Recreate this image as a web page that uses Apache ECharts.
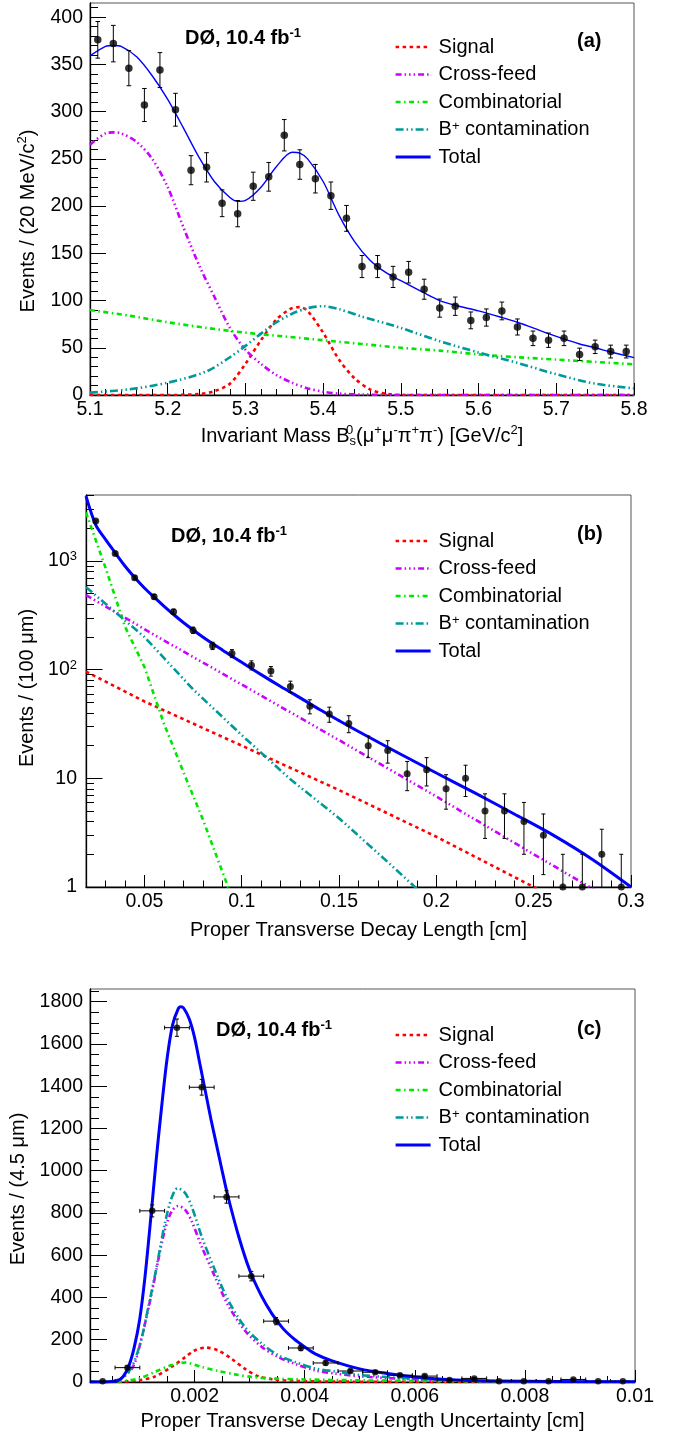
<!DOCTYPE html>
<html>
<head>
<meta charset="utf-8">
<title>DØ fit projections</title>
<script src="https://cdn.jsdelivr.net/npm/echarts@6.0.0/dist/echarts.min.js"></script>
<style>
html,body{margin:0;padding:0;background:#fff;}
#chart{width:673px;height:1433px;}
</style>
</head>
<body>
<div id="chart"></div>
<script>
// ================= DATA =================
// ---- Panel (a): invariant mass ----
const aMassBins = [5.11,5.13,5.15,5.17,5.19,5.21,5.23,5.25,5.27,5.29,5.31,5.33,5.35,5.37,5.39,5.41,5.43,5.45,5.47,5.49,5.51,5.53,5.55,5.57,5.59,5.61,5.63,5.65,5.67,5.69,5.71,5.73,5.75,5.77,5.79];
const aCounts = [376,372,346,307,344,302,238,241,203,192,221,231,275,244,229,211,187,136,136,125,130,112,92,94,79,82,89,72,60,58,60,43,51,46,46];
const aErrors = [19.4,19.3,18.6,17.5,18.5,17.4,15.4,15.5,14.2,13.9,14.9,15.2,16.6,15.6,15.1,14.5,13.7,11.7,11.7,11.2,11.4,10.6,9.6,9.7,8.9,9.1,9.4,8.5,7.7,7.6,7.7,6.6,7.1,6.8,6.8];
const aSignal = [[5.10,0],[5.20,0],[5.24,1],[5.26,4],[5.28,12],[5.30,33],[5.32,58],[5.34,80],[5.36,92],[5.37,93],[5.38,89],[5.40,66],[5.42,38],[5.44,18],[5.46,6],[5.48,1.5],[5.50,0],[5.80,0]];
const aCrossFeed = [[5.10,265],[5.12,277],[5.13,278],[5.14,277],[5.16,268],[5.18,250],[5.20,220],[5.22,178],[5.24,138],[5.26,104],[5.28,71],[5.30,48],[5.32,33],[5.34,21],[5.36,13],[5.38,7],[5.40,3.5],[5.42,1.5],[5.45,0.5],[5.50,0],[5.80,0]];
const aCombinatorial = [[5.10,90],[5.15,84],[5.20,77],[5.25,71],[5.30,66],[5.35,62],[5.40,58],[5.45,54],[5.50,50],[5.55,47],[5.60,43],[5.65,40],[5.70,37.5],[5.75,35],[5.80,32.5]];
const aBplus = [[5.10,2.5],[5.15,6],[5.20,13],[5.25,25],[5.28,40],[5.30,52],[5.32,65],[5.34,77],[5.36,86],[5.38,92],[5.40,94],[5.42,91],[5.45,83],[5.50,71],[5.55,57],[5.60,45],[5.65,34],[5.70,22],[5.75,12],[5.80,7]];
const aTotal = [[5.10,359],[5.12,369],[5.13,370],[5.14,369],[5.16,358],[5.18,338],[5.20,313],[5.22,283],[5.24,252],[5.26,226],[5.28,209],[5.29,205],[5.30,206],[5.32,220],[5.34,242],[5.36,257],[5.37,256],[5.38,250],[5.40,226],[5.42,191],[5.44,163],[5.46,143],[5.48,130],[5.50,121],[5.53,108],[5.55,100],[5.57,95],[5.60,89],[5.63,82],[5.65,77],[5.67,71],[5.70,62],[5.73,54],[5.75,50],[5.77,45.5],[5.80,39.5]];
const aXTicks = [5.1,5.2,5.3,5.4,5.5,5.6,5.7,5.8];
const aYTicks = [0,50,100,150,200,250,300,350,400];

// ---- Panel (b): proper transverse decay length (log) ----
const bBins = [0.025,0.035,0.045,0.055,0.065,0.075,0.085,0.095,0.105,0.115,0.125,0.135,0.145,0.155,0.165,0.175,0.185,0.195,0.205,0.215,0.225,0.235,0.245,0.255,0.265,0.275,0.285,0.295];
const bCounts = [2335,1175,702,469,341,231,166,141,110,97,70,46,39,32,20,18,11,12,8,10,5,5,4,3,1,1,2,1];
const bErrors = [48,34,26.5,21.7,18.5,15.2,12.9,11.9,10.5,9.8,8.4,6.8,6.2,5.7,4.5,4.2,3.3,3.5,2.8,3.2,2.2,2.2,2,1.7,1,1,1.4,1];
const bSignal = [[0.02,96],[0.05,51],[0.1,20],[0.15,7.8],[0.2,2.9],[0.25,1.0],[0.3,0.36]];
const bCrossFeed = [[0.02,486],[0.06,186],[0.1,73],[0.15,22.5],[0.2,6.8],[0.25,2.0],[0.3,0.6]];
const bCombinatorial = [[0.02,2800],[0.03,870],[0.04,250],[0.05,106],[0.06,32],[0.07,11.5],[0.08,4.2],[0.093,1],[0.1,0.45]];
const bBplus = [[0.02,575],[0.05,200],[0.075,66],[0.1,25],[0.125,9.8],[0.15,4.3],[0.175,1.7],[0.2,0.66]];
const bTotal = [[0.02,3950],[0.025,2150],[0.03,1580],[0.035,1190],[0.04,900],[0.045,705],[0.05,565],[0.055,465],[0.06,385],[0.065,322],[0.07,272],[0.08,200],[0.09,152],[0.1,117],[0.11,90],[0.12,70],[0.13,55],[0.14,43],[0.15,34],[0.16,27],[0.18,17.3],[0.2,11.2],[0.22,7.3],[0.24,4.7],[0.26,3.0],[0.28,1.8],[0.3,1.0]];
const bXTicks = [0.05,0.1,0.15,0.2,0.25,0.3];
const bYTicks = [1,10,100,1000];

// ---- Panel (c): decay length uncertainty ----
const cBins = [0.00033,0.00078,0.00123,0.00168,0.00213,0.00258,0.00303,0.00348,0.00393,0.00438,0.00483,0.00528,0.00573,0.00618,0.00663,0.00708,0.00753,0.00798,0.00843,0.00888,0.00933,0.00978];
const cCounts = [3,68,810,1677,1395,876,501,288,161,90,52,46,32,28,10,17,4,4,4,12,3,3];
const cErrors = [1.7,8.2,28.5,41,37.3,29.6,22.4,17,12.7,9.5,7.2,6.8,5.7,5.3,3.2,4.1,2,2,2,3.5,1.7,1.7];
const cBinHalfWidth = 0.000225;
const cSignal = [[0.0001,0],[0.0005,0],[0.00067,1],[0.00098,8],[0.00128,26],[0.00158,71],[0.00183,118],[0.002,149],[0.0022,163],[0.00243,149],[0.00267,110],[0.00291,63],[0.00316,27],[0.00346,11],[0.00382,5],[0.00455,2],[0.006,0.5],[0.01,0]];
const cCrossFeed = [[0.0001,0],[0.0005,2],[0.00086,63],[0.00104,213],[0.00122,419],[0.00134,577],[0.00146,719],[0.00158,806],[0.0017,833],[0.00183,815],[0.00195,759],[0.00213,640],[0.00237,498],[0.00261,363],[0.00291,245],[0.00322,166],[0.00352,118],[0.00382,86],[0.00419,55],[0.00455,40],[0.005,27],[0.0057,16],[0.0063,10],[0.007,5],[0.008,2],[0.01,0.5]];
const cCombinatorial = [[0.0001,0],[0.0005,1],[0.00098,16],[0.00128,48],[0.00158,80],[0.00183,92],[0.00213,71],[0.00243,52],[0.00273,36],[0.00304,24],[0.00346,16],[0.004,12],[0.005,8],[0.006,5],[0.008,3],[0.01,2]];
const cBplus = [[0.0001,0],[0.0005,2],[0.0008,47],[0.001,170],[0.00116,356],[0.00128,505],[0.00137,630],[0.00146,750],[0.00158,870],[0.00169,917],[0.00183,894],[0.00195,828],[0.00213,688],[0.00237,529],[0.00261,387],[0.00291,261],[0.00322,182],[0.00352,127],[0.00382,95],[0.00419,64],[0.00455,50],[0.005,33],[0.0057,20],[0.0063,12],[0.007,6],[0.008,2],[0.01,0.5]];
const cTotal = [[0.0001,0],[0.0004,0],[0.0005,2],[0.0006,6],[0.0007,25],[0.0008,72],[0.0009,160],[0.001,292],[0.0011,500],[0.0012,765],[0.0013,1045],[0.0014,1300],[0.0015,1530],[0.0016,1690],[0.0017,1765],[0.00175,1776],[0.0018,1770],[0.0019,1720],[0.002,1630],[0.0021,1500],[0.0022,1370],[0.0023,1240],[0.0024,1120],[0.0025,1000],[0.0026,885],[0.0028,690],[0.003,530],[0.0032,415],[0.0034,325],[0.0036,255],[0.0038,205],[0.004,166],[0.0042,132],[0.0045,100],[0.005,62],[0.0055,40],[0.006,24],[0.0065,13],[0.007,7],[0.008,3],[0.009,1.5],[0.01,1]];
const cXTicks = [0.002,0.004,0.006,0.008,0.01];
const cYTicks = [0,200,400,600,800,1000,1200,1400,1600,1800];

const legendNames = ['Signal','Cross-feed','Combinatorial','B+ contamination','Total'];

// ================= STYLE =================
const FONT = '"Liberation Sans", Arial, Helvetica, sans-serif';
const COL = {signal:'#ff0000', cross:'#cc00ff', comb:'#00e600', bplus:'#009999', total:'#0000ff'};
const DASH = {
  signal:[3.5,3.5],
  cross:[6,3,1.5,3,1.5,3,1.5,3],
  comb:[5,3.5,1.5,3.5],
  bplus:[8,3,1.5,3,1.5,3],
  total:'solid'
};
const KEYS = ['signal','cross','comb','bplus','total'];

const richT = {
  t:{fontSize:20, fontFamily:FONT, color:'#000', lineHeight:24},
  sup:{fontSize:13, fontFamily:FONT, color:'#000', lineHeight:13, verticalAlign:'top'},
  z:{fontSize:13, fontFamily:FONT, color:'#000', lineHeight:13, verticalAlign:'top', width:0},
  sub:{fontSize:13, fontFamily:FONT, color:'#000', lineHeight:13, verticalAlign:'bottom'}
};

function minorLinear(min, max, step, majors) {
  const out = [];
  const n = Math.round((max - min) / step);
  for (let k = 0; k <= n; k++) {
    const v = +(min + k * step).toFixed(9);
    if (!majors.some(m => Math.abs(m - v) < step * 1e-3)) out.push(v);
  }
  return out;
}
function minorLog(maxV) {
  const out = [];
  for (let d = 1; d <= maxV; d *= 10) for (let m = 2; m <= 9; m++) if (m * d <= maxV) out.push(m * d);
  return out;
}

function majorAxis(isX, grid, type, min, max, ticks, fmt, len, margin, extra) {
  const ax = {
    type, gridIndex:grid, min, max, position: isX ? 'bottom' : 'left',
    axisLine:{show:true, onZero:false, lineStyle:{color:'#000', width:1.3}},
    axisTick:{show:true, inside:true, length:len, customValues:ticks, lineStyle:{color:'#000', width:1}},
    axisLabel:{show:true, customValues:ticks, formatter:fmt, margin, fontSize:19.5, fontFamily:FONT, color:'#000'},
    splitLine:{show:false}, minorTick:{show:false}
  };
  if (type === 'log') ax.logBase = 10;
  return Object.assign(ax, extra || {});
}
function minorAxis(isX, grid, type, min, max, ticks, len) {
  const ax = {
    type, gridIndex:grid, min, max, position: isX ? 'bottom' : 'left',
    axisLine:{show:false, onZero:false},
    axisTick:{show:true, inside:true, length:len, customValues:ticks, lineStyle:{color:'#000', width:1}},
    axisLabel:{show:false}, splitLine:{show:false}
  };
  if (type === 'log') ax.logBase = 10;
  return ax;
}

const AY = [0, 415], BY = [1, 4050], CY = [0, 1860];
const AX = [5.1, 5.8], BX = [0.02, 0.3], CX = [0.0001, 0.01];

const fmtNum = d => v => String(parseFloat((+v).toFixed(d)));

const xAxes = [
  majorAxis(true, 0, 'value', AX[0], AX[1], aXTicks, v => (+v).toFixed(1), 12, 5, {
    name:'{t|Invariant Mass B}{z|0}{sub|s}{t|(μ}{sup|+}{t|μ}{sup|-}{t|π}{sup|+}{t|π}{sup|-}{t|) [GeV/c}{sup|2}{t|]}',
    nameLocation:'middle', nameGap:29, nameTextStyle:{rich:richT}
  }),
  minorAxis(true, 0, 'value', AX[0], AX[1], minorLinear(5.1, 5.8, 0.02, aXTicks), 6),
  majorAxis(true, 1, 'value', BX[0], BX[1], bXTicks, fmtNum(3), 12, 5, {
    name:'Proper Transverse Decay Length [cm]', nameLocation:'middle', nameGap:33,
    nameTextStyle:{fontSize:20, fontFamily:FONT, color:'#000'}
  }),
  minorAxis(true, 1, 'value', BX[0], BX[1], minorLinear(0.02, 0.3, 0.01, bXTicks), 6.5),
  majorAxis(true, 2, 'value', CX[0], CX[1], cXTicks, fmtNum(4), 12, 5, {
    name:'Proper Transverse Decay Length Uncertainty [cm]', nameLocation:'middle', nameGap:29,
    nameTextStyle:{fontSize:20, fontFamily:FONT, color:'#000'}
  }),
  minorAxis(true, 2, 'value', CX[0], CX[1], minorLinear(0.0005, 0.01, 0.0005, cXTicks), 6)
];
const yAxes = [
  majorAxis(false, 0, 'value', AY[0], AY[1], aYTicks, v => String(Math.round(v)), 16, 7, {
    name:'{t|Events / (20 MeV/c}{sup|2}{t|)}', nameLocation:'middle', nameGap:50,
    nameTextStyle:{rich:richT, padding:[0,44,0,0]}
  }),
  minorAxis(false, 0, 'value', AY[0], AY[1], minorLinear(0, 410, 10, aYTicks), 8),
  majorAxis(false, 1, 'log', BY[0], BY[1], bYTicks, v => {
      const e = Math.round(Math.log10(v));
      return e === 0 ? '{n|1}' : e === 1 ? '{n|10}' : '{n|10}{sup|' + e + '}';
    }, 16.5, 9, {
    name:'Events / (100 μm)', nameLocation:'middle', nameGap:42,
    nameTextStyle:{fontSize:20, fontFamily:FONT, color:'#000', padding:[0,0,0,6]}
  }),
  minorAxis(false, 1, 'log', BY[0], BY[1], minorLog(BY[1]), 8),
  majorAxis(false, 2, 'value', CY[0], CY[1], cYTicks, v => String(Math.round(v)), 17, 7, {
    name:'Events / (4.5 μm)', nameLocation:'middle', nameGap:50,
    nameTextStyle:{fontSize:20, fontFamily:FONT, color:'#000', padding:[0,7,0,0]}
  }),
  minorAxis(false, 2, 'value', CY[0], CY[1], minorLinear(0, 1850, 50, cYTicks), 9)
];
yAxes[2].axisLabel.rich = {
  n:{fontSize:19.5, fontFamily:FONT, color:'#000', lineHeight:22},
  sup:{fontSize:13, fontFamily:FONT, color:'#000', lineHeight:13, verticalAlign:'top'}
};

// ================= SERIES =================
function curve(name, key, data, axis, width, smooth) {
  return {
    type:'line', name, xAxisIndex:axis, yAxisIndex:axis, data, symbol:'none',
    smooth: smooth || false, clip:true, silent:true,
    z: key === 'total' ? 4 : 3,
    lineStyle:{color:COL[key], width, type:DASH[key], cap:'butt', join:'round'},
    emphasis:{disabled:true}
  };
}
function points(xs, ys, axis, size) {
  return {
    type:'scatter', xAxisIndex:axis, yAxisIndex:axis, symbol:'circle', symbolSize:size,
    data: xs.map((x, i) => [x, ys[i]]), itemStyle:{color:'#000'}, z:6, silent:true,
    emphasis:{disabled:true}
  };
}
function errorBars(xs, ys, es, axis, yMin, cap, xHalf) {
  return {
    type:'custom', xAxisIndex:axis, yAxisIndex:axis, clip:true, z:5, silent:true,
    data: xs.map((x, i) => [x, ys[i], ys[i] - es[i], ys[i] + es[i], x - (xHalf || 0), x + (xHalf || 0)]),
    encode:{x:0, y:1},
    renderItem: function (params, api) {
      const x = api.value(0), y = api.value(1), lo = api.value(2), hi = api.value(3);
      const st = {stroke:'#000', lineWidth:1};
      const p = api.coord([x, y]);
      const clipped = lo < yMin;
      const pLo = api.coord([x, Math.max(lo, yMin)]);
      const pHi = api.coord([x, hi]);
      const ch = [
        {type:'line', shape:{x1:p[0], y1:pLo[1], x2:p[0], y2:pHi[1]}, style:st},
        {type:'line', shape:{x1:p[0]-cap, y1:pHi[1], x2:p[0]+cap, y2:pHi[1]}, style:st}
      ];
      if (!clipped) ch.push({type:'line', shape:{x1:p[0]-cap, y1:pLo[1], x2:p[0]+cap, y2:pLo[1]}, style:st});
      if (xHalf) {
        const pl = api.coord([api.value(4), y]), pr = api.coord([api.value(5), y]);
        ch.push({type:'line', shape:{x1:pl[0], y1:p[1], x2:pr[0], y2:p[1]}, style:st});
        ch.push({type:'line', shape:{x1:pl[0], y1:p[1]-cap, x2:pl[0], y2:p[1]+cap}, style:st});
        ch.push({type:'line', shape:{x1:pr[0], y1:p[1]-cap, x2:pr[0], y2:p[1]+cap}, style:st});
      }
      return {type:'group', children:ch};
    }
  };
}

const series = [
  // (a)
  curve('Signal','signal',aSignal,0,2.6,0.3),
  curve('Cross-feed','cross',aCrossFeed,0,2.6,0.3),
  curve('Combinatorial','comb',aCombinatorial,0,2.6,0.3),
  curve('B+ contamination','bplus',aBplus,0,2.6,0.3),
  curve('Total','total',aTotal,0,1.4,0.3),
  errorBars(aMassBins, aCounts, aErrors, 0, 0, 2.3),
  points(aMassBins, aCounts, 0, 7.5),
  // (b)
  curve('Signal','signal',bSignal,2,2.6,false),
  curve('Cross-feed','cross',bCrossFeed,2,2.6,false),
  curve('Combinatorial','comb',bCombinatorial,2,2.6,false),
  curve('B+ contamination','bplus',bBplus,2,2.6,false),
  curve('Total','total',bTotal,2,3,0.3),
  errorBars(bBins, bCounts, bErrors, 2, 1, 2),
  points(bBins, bCounts, 2, 7),
  // (c)
  curve('Signal','signal',cSignal,4,2.6,0.3),
  curve('Cross-feed','cross',cCrossFeed,4,2.6,0.3),
  curve('Combinatorial','comb',cCombinatorial,4,2.6,0.3),
  curve('B+ contamination','bplus',cBplus,4,2.6,0.3),
  curve('Total','total',cTotal,4,3,0.3),
  errorBars(cBins, cCounts, cErrors, 4, 0, 2, cBinHalfWidth),
  points(cBins, cCounts, 4, 6.5)
];

function legend(top) {
  return {
    orient:'vertical', left:394, top, padding:0, itemWidth:35, itemHeight:14, itemGap:7.5,
    selectedMode:false,
    formatter: n => n === 'B+ contamination' ? '{n|B}{sup|+}{n| contamination}' : '{n|' + n + '}',
    textStyle:{fontSize:20, fontFamily:FONT, color:'#000', lineHeight:20, padding:[0,0,0,3],
      rich:{n:{fontSize:20, fontFamily:FONT, color:'#000', lineHeight:20},
            sup:{fontSize:13, fontFamily:FONT, color:'#000', lineHeight:11, verticalAlign:'top'}}},
    data: legendNames.map((n, i) => ({
      name:n,
      lineStyle:{color:COL[KEYS[i]], width: KEYS[i] === 'total' ? 3.2 : 2.6, type:DASH[KEYS[i]], cap:'butt'},
      itemStyle:{opacity:0}
    }))
  };
}

function labelText(left, top, text) {
  return {
    type:'text', left, top, silent:true,
    style:{text, rich:{
      b:{fontSize:20, fontWeight:'bold', fontFamily:FONT, fill:'#000', lineHeight:22},
      s:{fontSize:13, fontWeight:'bold', fontFamily:FONT, fill:'#000', lineHeight:13, verticalAlign:'top'}
    }}
  };
}

const option = {
  animation:false,
  backgroundColor:'#fff',
  grid:[
    {left:90, top:3, width:544, height:392, show:true, borderColor:'#555', borderWidth:1, containLabel:false},
    {left:86, top:495, width:545, height:392, show:true, borderColor:'#555', borderWidth:1, containLabel:false},
    {left:90, top:989, width:545, height:393, show:true, borderColor:'#555', borderWidth:1, containLabel:false}
  ],
  xAxis:xAxes,
  yAxis:yAxes,
  legend:[legend(37), legend(531), legend(1025)],
  graphic:[
    labelText(185, 27, '{b|DØ, 10.4 fb}{s|-1}'),
    labelText(577, 31, '{b|(a)}'),
    labelText(171, 525, '{b|DØ, 10.4 fb}{s|-1}'),
    labelText(577, 524, '{b|(b)}'),
    labelText(216, 1019, '{b|DØ, 10.4 fb}{s|-1}'),
    labelText(577, 1019, '{b|(c)}')
  ],
  series
};

const chart = echarts.init(document.getElementById('chart'), null, {renderer:'canvas'});
chart.setOption(option);
</script>
</body>
</html>
